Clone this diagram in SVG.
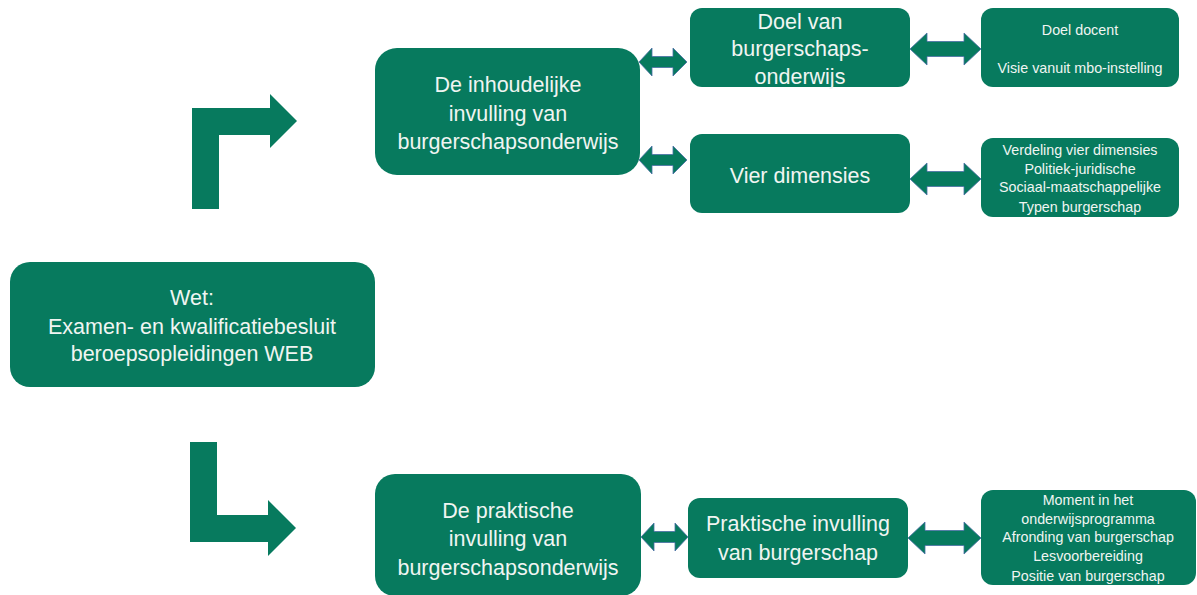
<svg xmlns="http://www.w3.org/2000/svg" width="1197" height="595" viewBox="0 0 1197 595">
<style>
.box{fill:#077A5E}
.arr{fill:#077A5E;stroke:#4A6FA5;stroke-width:0.8}
.big{fill:#F0F5F2;font-family:"Liberation Sans",Arial,sans-serif;font-size:21.5px;text-anchor:middle}
.sm{fill:#F0F5F2;font-family:"Liberation Sans",Arial,sans-serif;font-size:14.3px;text-anchor:middle}
</style>
<rect width="1197" height="595" fill="#FFFFFF"/>
<g id="main">
<rect class="box" x="10" y="262" width="365" height="125" rx="20"/>
<text class="big" x="192" y="304.5">Wet:</text>
<text class="big" x="192" y="333.5">Examen- en kwalificatiebesluit</text>
<text class="big" x="192" y="360.5">beroepsopleidingen WEB</text>
</g>
<g id="inhoudelijk">
<rect class="box" x="375" y="48" width="265" height="127" rx="22"/>
<text class="big" x="508" y="91.5">De inhoudelijke</text>
<text class="big" x="508" y="120.5">invulling van</text>
<text class="big" x="508" y="148.5">burgerschapsonderwijs</text>
</g>
<g id="praktisch">
<rect class="box" x="375" y="474" width="266" height="122" rx="20"/>
<text class="big" x="508" y="517.5">De praktische</text>
<text class="big" x="508" y="545.5">invulling van</text>
<text class="big" x="508" y="574.5">burgerschapsonderwijs</text>
</g>
<g id="doel">
<rect class="box" x="690" y="8" width="220" height="79" rx="12"/>
<text class="big" x="800" y="28.5">Doel van</text>
<text class="big" x="800" y="55.5">burgerschaps-</text>
<text class="big" x="800" y="83.5">onderwijs</text>
</g>
<g id="vier">
<rect class="box" x="690" y="134" width="220" height="79" rx="12"/>
<text class="big" x="800" y="182.5">Vier dimensies</text>
</g>
<g id="praktischeinvulling">
<rect class="box" x="688" y="498" width="220" height="80" rx="12"/>
<text class="big" x="798" y="530.5">Praktische invulling</text>
<text class="big" x="798" y="559.5">van burgerschap</text>
</g>
<g id="doeldocent">
<rect class="box" x="981" y="8" width="198" height="79" rx="12"/>
<text class="sm" x="1080" y="35">Doel docent</text>
<text class="sm" x="1080" y="73">Visie vanuit mbo-instelling</text>
</g>
<g id="verdeling">
<rect class="box" x="981" y="138" width="198" height="79" rx="12"/>
<text class="sm" x="1080" y="155">Verdeling vier dimensies</text>
<text class="sm" x="1080" y="174">Politiek-juridische</text>
<text class="sm" x="1080" y="192">Sociaal-maatschappelijke</text>
<text class="sm" x="1080" y="212">Typen burgerschap</text>
</g>
<g id="moment">
<rect class="box" x="981" y="490" width="215" height="95" rx="12"/>
<text class="sm" x="1088" y="505">Moment in het</text>
<text class="sm" x="1088" y="524">onderwijsprogramma</text>
<text class="sm" x="1088" y="542">Afronding van burgerschap</text>
<text class="sm" x="1088" y="561">Lesvoorbereiding</text>
<text class="sm" x="1088" y="581">Positie van burgerschap</text>
</g>
<g id="connectors">
<path class="box" d="M192,209 L192,108 L270,108 L270,94 L297,121 L270,148 L270,135 L219,135 L219,209 Z"/>
<path class="box" d="M190,442 L217,442 L217,515 L268,515 L268,500 L296,528 L268,556 L268,542 L190,542 Z"/>
<path class="arr" d="M639,62 L652,48 L652,56.5 L673,56.5 L673,48 L687,62 L673,76 L673,67.5 L652,67.5 L652,76 Z"/>
<path class="arr" d="M639,160 L652,146 L652,154.5 L673,154.5 L673,146 L687,160 L673,174 L673,165.5 L652,165.5 L652,174 Z"/>
<path class="arr" d="M641,537 L654,523 L654,531.5 L675,531.5 L675,523 L688,537 L675,551 L675,542.5 L654,542.5 L654,551 Z"/>
<path class="arr" d="M910,49 L927,33 L927,41.5 L964,41.5 L964,33 L981,49 L964,65 L964,56.5 L927,56.5 L927,65 Z"/>
<path class="arr" d="M910,179 L927,163 L927,171.5 L964,171.5 L964,163 L981,179 L964,195 L964,186.5 L927,186.5 L927,195 Z"/>
<path class="arr" d="M908,538 L925,522 L925,530.5 L964,530.5 L964,522 L981,538 L964,554 L964,545.5 L925,545.5 L925,554 Z"/>
</g>
</svg>
